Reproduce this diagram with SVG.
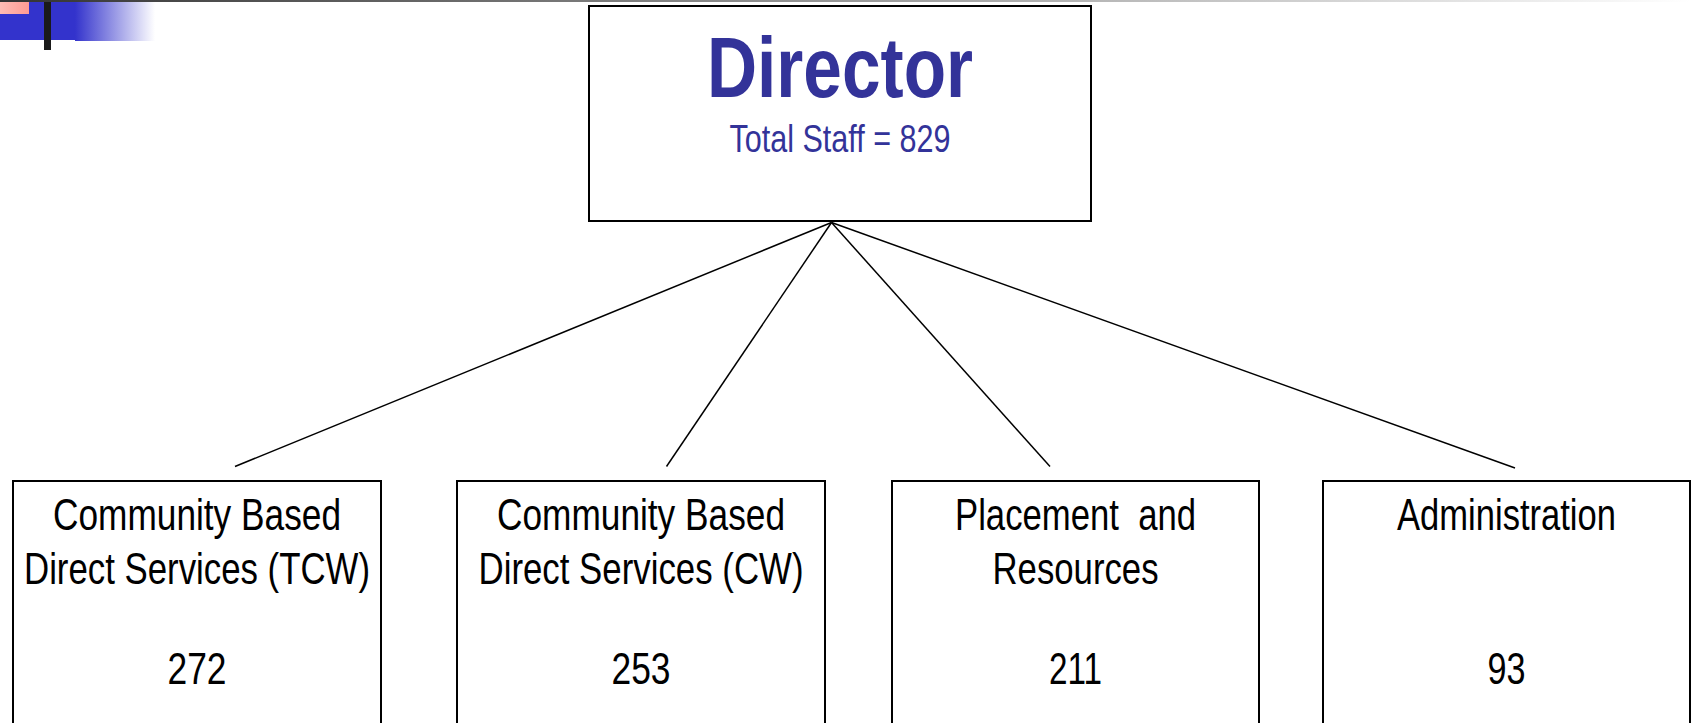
<svg xmlns="http://www.w3.org/2000/svg" width="1692" height="723" viewBox="0 0 1692 723">
<defs>
<linearGradient id="topLine" x1="0" y1="0" x2="1" y2="0">
<stop offset="0" stop-color="#333333"/>
<stop offset="1" stop-color="#ffffff"/>
</linearGradient>
<linearGradient id="blueFade" x1="0" y1="0" x2="1" y2="0">
<stop offset="0" stop-color="#3333cc"/>
<stop offset="1" stop-color="#ffffff"/>
</linearGradient>
<linearGradient id="pink" x1="0" y1="0" x2="1" y2="0">
<stop offset="0" stop-color="#ffbcb4"/>
<stop offset="1" stop-color="#ff9a94"/>
</linearGradient>
<style>
.box{fill:#ffffff;stroke:#000000;stroke-width:2}
.conn{stroke:#000000;stroke-width:1.5;fill:none}
.lbl{font-family:"Liberation Sans",Arial,sans-serif;font-size:44px;fill:#000000;text-anchor:middle}
.title{font-family:"Liberation Sans",Arial,sans-serif;font-weight:bold;font-size:86px;fill:#333399;text-anchor:middle}
.sub{font-family:"Liberation Sans",Arial,sans-serif;font-size:38px;fill:#333399;text-anchor:middle}
</style>
</defs>
<rect width="1692" height="723" fill="#ffffff"/>
<g id="decoration">
<rect x="0" y="0" width="1692" height="2" fill="url(#topLine)"/>
<rect x="0" y="2" width="76" height="38" fill="#3333cc"/>
<rect x="75" y="2" width="80" height="39" fill="url(#blueFade)"/>
<rect x="0" y="2" width="29" height="12" fill="url(#pink)"/>
<rect x="44" y="2" width="7" height="48" fill="#1a1a1a"/>
</g>
<g id="connectors">
<line class="conn" x1="831.5" y1="222.5" x2="235" y2="466.5"/>
<line class="conn" x1="831.5" y1="222.5" x2="666.5" y2="466.5"/>
<line class="conn" x1="831.5" y1="222.5" x2="1050" y2="466.5"/>
<line class="conn" x1="831.5" y1="222.5" x2="1515" y2="468"/>
</g>
<g id="director">
<rect class="box" x="589" y="6" width="502" height="215"/>
<text class="title" x="840" y="97" textLength="266" lengthAdjust="spacingAndGlyphs">Director</text>
<text class="sub" x="840" y="152" textLength="221" lengthAdjust="spacingAndGlyphs">Total Staff = 829</text>
</g>
<g id="tcw">
<rect class="box" x="13" y="481" width="368" height="260"/>
<text class="lbl" x="197" y="530" textLength="288" lengthAdjust="spacingAndGlyphs">Community Based</text>
<text class="lbl" x="197" y="584" textLength="346" lengthAdjust="spacingAndGlyphs">Direct Services (TCW)</text>
<text class="lbl" x="197" y="684" textLength="59" lengthAdjust="spacingAndGlyphs">272</text>
</g>
<g id="cw">
<rect class="box" x="457" y="481" width="368" height="260"/>
<text class="lbl" x="641" y="530" textLength="288" lengthAdjust="spacingAndGlyphs">Community Based</text>
<text class="lbl" x="641" y="584" textLength="325" lengthAdjust="spacingAndGlyphs">Direct Services (CW)</text>
<text class="lbl" x="641" y="684" textLength="59" lengthAdjust="spacingAndGlyphs">253</text>
</g>
<g id="placement">
<rect class="box" x="892" y="481" width="367" height="260"/>
<text class="lbl" x="1075.5" y="530" textLength="241" lengthAdjust="spacingAndGlyphs" xml:space="preserve">Placement  and</text>
<text class="lbl" x="1075.5" y="584" textLength="166" lengthAdjust="spacingAndGlyphs">Resources</text>
<text class="lbl" x="1075.5" y="684" textLength="53" lengthAdjust="spacingAndGlyphs">211</text>
</g>
<g id="administration">
<rect class="box" x="1323" y="481" width="367" height="260"/>
<text class="lbl" x="1506.5" y="530" textLength="219" lengthAdjust="spacingAndGlyphs">Administration</text>
<text class="lbl" x="1506.5" y="684" textLength="38" lengthAdjust="spacingAndGlyphs">93</text>
</g>
</svg>
